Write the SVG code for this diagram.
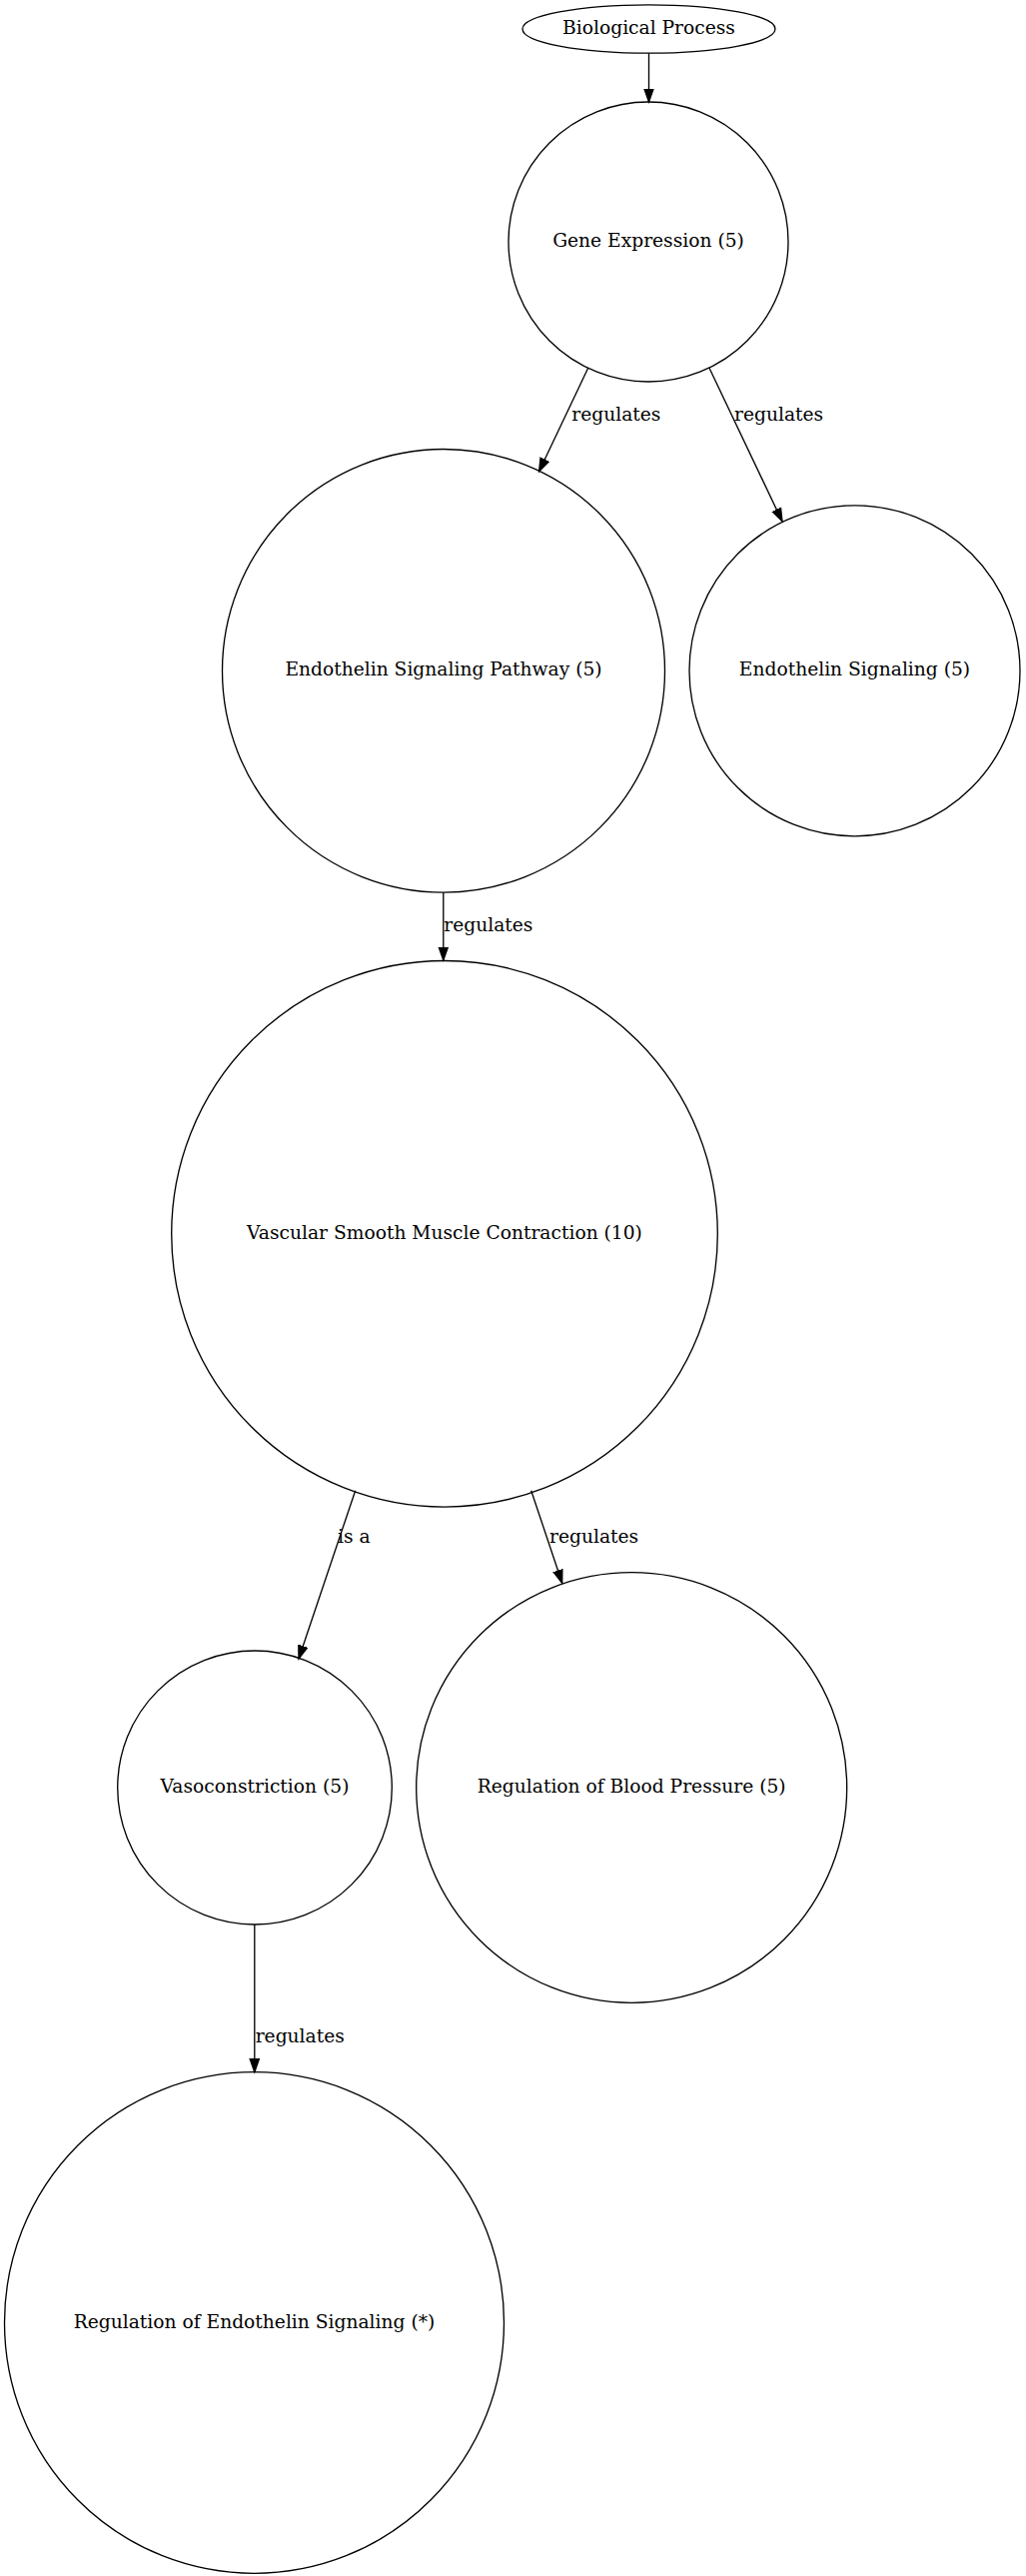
<svg xmlns="http://www.w3.org/2000/svg" width="1027" height="2578" viewBox="0 0 1027 2578">
<style>
.node ellipse{fill:none;stroke:#000;stroke-width:1.33}
.node text{font-family:"DejaVu Serif","Liberation Serif",serif;font-size:18.67px;fill:#000;text-anchor:middle}
.edge line{stroke:#000;stroke-width:1.33;marker-end:url(#arrow)}
.edge text{font-family:"DejaVu Serif","Liberation Serif",serif;font-size:18.67px;fill:#000;text-anchor:start}
</style>
<defs>
<marker id="arrow" markerUnits="userSpaceOnUse" markerWidth="16" markerHeight="12" refX="13.33" refY="0" viewBox="0 -6 16 12" orient="auto">
<path d="M0,-4.67 L13.33,0 L0,4.67 Z" fill="#000" stroke="#000" stroke-width="1.33"/>
</marker>
</defs>
<rect width="1027" height="2578" fill="#fff"/>
<g id="edges">
<g class="edge"><line x1="649.5" y1="53.3" x2="649.5" y2="102"/></g>
<g class="edge"><line x1="588.7" y1="368.3" x2="539.6" y2="471.8"/><text x="572.3" y="421">regulates</text></g>
<g class="edge"><line x1="710" y1="368.3" x2="783" y2="521.8"/><text x="735" y="421">regulates</text></g>
<g class="edge"><line x1="443.8" y1="893.3" x2="443.8" y2="961"/><text x="444.3" y="931.7">regulates</text></g>
<g class="edge"><line x1="355.7" y1="1491.7" x2="299" y2="1660"/><text x="338" y="1544.3">is a</text></g>
<g class="edge"><line x1="531.7" y1="1491.7" x2="562.7" y2="1584.3"/><text x="550" y="1544.3">regulates</text></g>
<g class="edge"><line x1="254.8" y1="1926" x2="254.8" y2="2073.7"/><text x="255.7" y="2044.4">regulates</text></g>
</g>
<g id="n_bp" class="node"><ellipse cx="649.5" cy="29" rx="126.5" ry="24.2"/><text x="649.5" y="34">Biological Process</text></g>
<g id="n_ge" class="node"><ellipse cx="649" cy="242" rx="140" ry="140"/><text x="649" y="247">Gene Expression (5)</text></g>
<g id="n_esp" class="node"><ellipse cx="444" cy="671.3" rx="221.5" ry="221.8"/><text x="444" y="676.3">Endothelin Signaling Pathway (5)</text></g>
<g id="n_es" class="node"><ellipse cx="855.5" cy="671.3" rx="165.5" ry="165.5"/><text x="855.5" y="676.3">Endothelin Signaling (5)</text></g>
<g id="n_vsmc" class="node"><ellipse cx="445" cy="1234.8" rx="273.3" ry="273.3"/><text x="445" y="1239.8">Vascular Smooth Muscle Contraction (10)</text></g>
<g id="n_vaso" class="node"><ellipse cx="255" cy="1789" rx="137.3" ry="137"/><text x="255" y="1794">Vasoconstriction (5)</text></g>
<g id="n_rbp" class="node"><ellipse cx="632.2" cy="1789" rx="215.5" ry="215.3"/><text x="632.2" y="1794">Regulation of Blood Pressure (5)</text></g>
<g id="n_res" class="node"><ellipse cx="254.5" cy="2324.5" rx="250" ry="250.8"/><text x="254.5" y="2329.5">Regulation of Endothelin Signaling (*)</text></g>
</svg>
